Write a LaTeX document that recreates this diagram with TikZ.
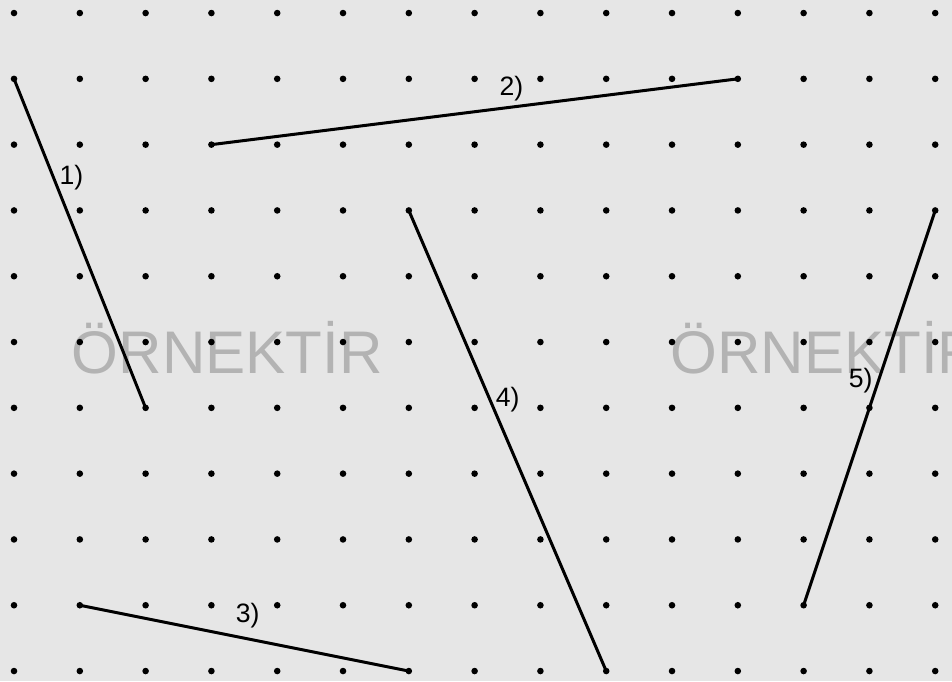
\documentclass[tikz,border=0pt]{standalone}
\usepackage{fontspec}
\setmainfont{Liberation Sans}
\usetikzlibrary{positioning}

\definecolor{zemin}{HTML}{E6E6E6}
\definecolor{filigranrenk}{HTML}{B3B3B3}

\begin{document}
\begin{tikzpicture}[
		% --- STILLER ---
		nokta/.style = {fill=black},
		dogru/.style = {line width=1.3pt, line cap=round},
		etiket/.style = {font=\fontsize{11.5}{14}\selectfont, inner sep=2pt},
		filigran/.style = {text=filigranrenk, font=\fontsize{26}{30}\selectfont}
		]
		
		% --- ZEMIN ---
		\fill[zemin] (-0.213,0.198) rectangle (14.255,-10.152);
		\useasboundingbox (-0.213,0.198) rectangle (14.255,-10.152);
		
		% --- FILIGRAN ---
		\node[filigran] (fil1) at (3.24,-5.08) {ÖRNEKTİR};
		\node[filigran] (fil2) at (12.34,-5.08) {ÖRNEKTİR};
		
		% --- NOKTALI KAGIT ---
		\foreach \i in {0,...,14}
			\foreach \j in {0,...,10} {
				\coordinate (p\i-\j) at (\i,-\j);
				\fill[nokta] (p\i-\j) circle (0.05);
			}
		
		% --- DOGRU PARCALARI ---
		\draw[dogru] (p0-1) -- node[etiket, right, pos=0.3] {1)} (p2-6);
		\draw[dogru] (p3-2) -- node[etiket, above, pos=0.57] {2)} (p11-1);
		\draw[dogru] (p1-9) -- node[etiket, above, pos=0.51, yshift=2pt] {3)} (p6-10);
		\draw[dogru] (p6-3) -- node[etiket, right, pos=0.41] {4)} (p9-10);
		\draw[dogru] (p14-3) -- node[etiket, left, pos=0.43] {5)} (p12-9);
		
	\end{tikzpicture}
\end{document}
